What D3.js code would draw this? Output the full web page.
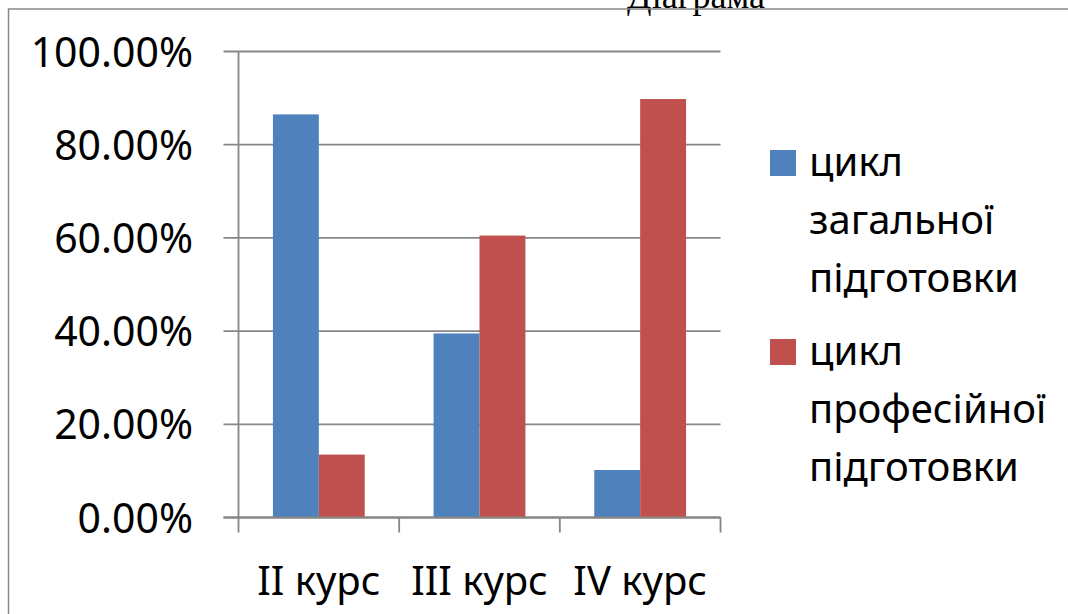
<!DOCTYPE html>
<html>
<head>
<meta charset="utf-8">
<script src="https://cdn.jsdelivr.net/npm/d3@7"></script>
<style>
  html, body { margin: 0; padding: 0; background: #fff; }
  svg { display: block; }
  text { font-family: "Noto Sans", sans-serif; fill: #000; }
</style>
</head>
<body>
<div id="chart"></div>
<script>
// ── Data ──
const courses = ["II курс", "III курс", "IV курс"];
const seriesNames = ["цикл загальної підготовки", "цикл професійної підготовки"];
const legendLines = [["цикл", "загальної", "підготовки"], ["цикл", "професійної", "підготовки"]];
const generalCycle = [0.865, 0.395, 0.102];
const professionalCycle = [0.135, 0.605, 0.898];
const yTicks = [0, 0.2, 0.4, 0.6, 0.8, 1.0];
const colors = ["#4F81BD", "#C0504D"];

const width = 1068, height = 614;
const plot = { left: 238.5, right: 720.5, top: 51.5, bottom: 517.5 };
const gridColor = "#868686";

const svg = d3.select("#chart").append("svg")
  .attr("width", width)
  .attr("height", height);

// ── Title (cut off at the top, as in the source) ──
svg.append("text")
  .attr("x", 696).attr("y", 8)
  .attr("text-anchor", "middle")
  .style("font-family", "'Liberation Serif', 'Times New Roman', serif")
  .style("font-size", "36px")
  .text("Діаграма");

// ── Outer frame (only left + top visible) ──
svg.append("path")
  .attr("d", `M8.5,${height} V9 H${width}`)
  .attr("fill", "none")
  .attr("stroke", gridColor)
  .attr("stroke-width", 1.5);

// ── Scales ──
const x0 = d3.scaleBand().domain(courses).range([plot.left, plot.right]).paddingInner(0).paddingOuter(0);
// gap width 150% → bars take 2/(2+1.5) of band
const barW = x0.bandwidth() / 3.5;
const gap = (x0.bandwidth() - 2 * barW) / 2;
const y = d3.scaleLinear().domain([0, 1]).range([plot.bottom, plot.top]);

// ── Gridlines + y ticks ──
const yAxis = svg.append("g");
yAxis.selectAll("line.grid")
  .data(yTicks)
  .join("line")
  .attr("x1", plot.left - 15).attr("x2", plot.right)
  .attr("y1", d => y(d)).attr("y2", d => y(d))
  .attr("stroke", gridColor).attr("stroke-width", 1.8);

yAxis.selectAll("text")
  .data(yTicks)
  .join("text")
  .attr("x", 193)
  .attr("y", d => y(d) + 15)
  .attr("text-anchor", "end")
  .style("font-size", "41px")
  .text(d => d3.format(".2%")(d));

// ── Bars ──
const groups = svg.append("g").selectAll("g")
  .data(courses.map((c, i) => ({ c, vals: [generalCycle[i], professionalCycle[i]] })))
  .join("g");

groups.selectAll("rect")
  .data(d => d.vals.map((v, j) => ({ c: d.c, v, j })))
  .join("rect")
  .attr("x", d => x0(d.c) + gap + d.j * barW)
  .attr("y", d => y(d.v))
  .attr("width", barW)
  .attr("height", d => y(0) - y(d.v))
  .attr("fill", d => colors[d.j]);

// ── Axes lines ──
svg.append("line")
  .attr("x1", plot.left).attr("x2", plot.left)
  .attr("y1", plot.top).attr("y2", plot.bottom)
  .attr("stroke", gridColor).attr("stroke-width", 1.8);

svg.append("line")
  .attr("x1", plot.left - 15).attr("x2", plot.right)
  .attr("y1", plot.bottom).attr("y2", plot.bottom)
  .attr("stroke", gridColor).attr("stroke-width", 1.8);

const xTickPos = courses.map(c => x0(c)).concat([plot.right]);
svg.append("g").selectAll("line")
  .data(xTickPos)
  .join("line")
  .attr("x1", d => d).attr("x2", d => d)
  .attr("y1", plot.bottom).attr("y2", plot.bottom + 15)
  .attr("stroke", gridColor).attr("stroke-width", 1.8);

svg.append("g").selectAll("text")
  .data(courses)
  .join("text")
  .attr("x", d => x0(d) + x0.bandwidth() / 2)
  .attr("y", 595)
  .attr("text-anchor", "middle")
  .style("font-size", "40px")
  .text(d => d);

// ── Legend ──
const legend = svg.append("g");
const legendTop = [176, 365];
seriesNames.forEach((name, i) => {
  legend.append("rect")
    .attr("x", 770).attr("y", legendTop[i] - 26)
    .attr("width", 26).attr("height", 26)
    .attr("fill", colors[i]);
  legend.append("text")
    .attr("x", 809).attr("y", legendTop[i])
    .style("font-size", "40px")
    .selectAll("tspan")
    .data(legendLines[i])
    .join("tspan")
    .attr("x", 809)
    .attr("dy", (d, k) => k === 0 ? 0 : 58)
    .text(d => d);
});
</script>
</body>
</html>
